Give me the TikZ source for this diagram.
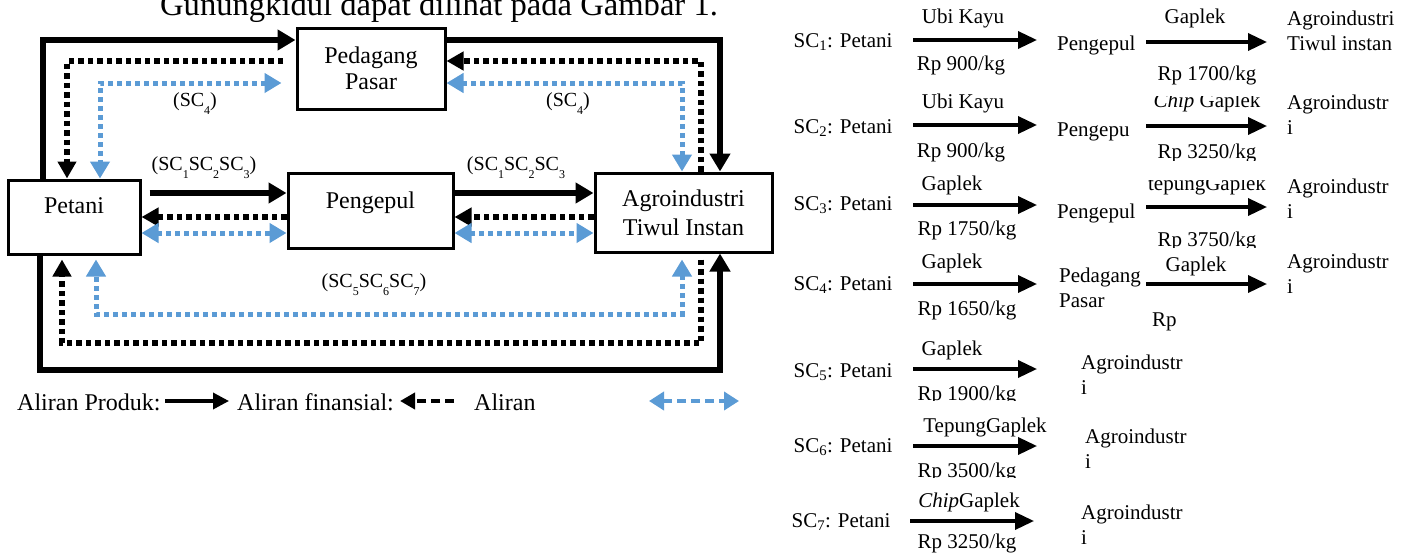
\documentclass[tikz,border=0pt]{standalone}
\usepackage{fontspec}
\setmainfont{Liberation Serif}
\usetikzlibrary{arrows.meta}
\definecolor{fblue}{RGB}{91,155,213}
\newcommand\lsub[1]{\raisebox{-8pt}{\fontsize{12}{12}\selectfont #1}}
\begin{document}
\begin{tikzpicture}[x=1pt,y=-1pt,
  box/.style={draw, line width=3pt, inner sep=0pt, font=\fontsize{24}{26}\selectfont, align=center},
  prod/.style={line width=5.5pt, -{Triangle[length=18pt,width=20pt]}},
  fin/.style={line width=5.5pt, dash pattern=on 5.5pt off 4pt, -{Triangle[length=17pt,width=18pt]}},
  blu/.style={fblue, line width=5pt, dash pattern=on 5pt off 4pt, {Triangle[length=17pt,width=19pt]}-{Triangle[length=17pt,width=19pt]}},
  lab/.style={font=\fontsize{20}{24}\selectfont, inner sep=0pt},
  rtxt/.style={font=\fontsize{21}{25}\selectfont, inner sep=0pt},
  rleft/.style={rtxt, anchor=west, align=left},
  rarr/.style={line width=3.5pt, -{Triangle[length=19pt,width=17pt]}},
  leg/.style={font=\fontsize{24}{29}\selectfont, inner sep=0pt, anchor=west},
]
\clip (0,0) rectangle (1414,557);
\fill[white] (0,0) rectangle (1414,557);

% title (cut at top)
\node[font=\fontsize{32.6}{36}\selectfont, anchor=base west, inner sep=0pt] (title) at (160,15) {Gunungkidul dapat dilihat pada Gambar 1.};

% boxes
\node[box, minimum width=148pt, minimum height=81pt] (pedagang) at (371,68.5) {Pedagang\\Pasar};
\node[box, minimum width=132pt, minimum height=74pt, text height=17pt, text depth=25pt] (petani) at (74,217) {Petani};
\node[box, minimum width=165pt, minimum height=75pt, text height=17pt, text depth=22pt] (pengepul) at (370.5,210.5) {Pengepul};
\node[box, minimum width=177pt, minimum height=79pt, font=\fontsize{24}{29}\selectfont] (agro) at (683.5,212.5) {Agroindustri\\Tiwul Instan};

% lane coordinates
\coordinate (tl) at (43,40);
\coordinate (tr) at (720,40);
\coordinate (fl) at (67,61);
\coordinate (fr) at (701,61);
\coordinate (flstart) at (283,61);
\coordinate (bl) at (100,83);
\coordinate (br) at (682,83);
\coordinate (ym1) at (0,193);
\coordinate (ym2) at (0,217);
\coordinate (ym3) at (0,233);
\coordinate (btl) at (40,370);
\coordinate (btr) at (720,370);
\coordinate (bfl) at (62,343);
\coordinate (bfr) at (701,343);
\coordinate (bbl) at (96,314);
\coordinate (bbr) at (682,314);

% top connectors
\draw[prod] (petani.north -| tl) |- (pedagang.west |- tl);
\draw[prod] (pedagang.east |- tr) -| (agro.north -| tr);
\draw[fin] (flstart) -| (petani.north -| fl);
\draw[blu, shorten <=14pt] (pedagang.west |- bl) -| (petani.north -| bl);
\draw[fin] (agro.north -| fr) |- (pedagang.east |- fr);
\draw[blu] (pedagang.east |- br) -| (agro.north -| br);

% middle connectors
\draw[prod, shorten <=8pt] (petani.east |- ym1) -- (pengepul.west |- ym1);
\draw[fin] (pengepul.west |- ym2) -- (petani.east |- ym2);
\draw[blu] (petani.east |- ym3) -- (pengepul.west |- ym3);
\draw[prod] (pengepul.east |- ym1) -- (agro.west |- ym1);
\draw[fin] (agro.west |- ym2) -- (pengepul.east |- ym2);
\draw[blu] (pengepul.east |- ym3) -- (agro.west |- ym3);

% bottom connectors
\draw[prod] (petani.south -| btl) |- (btr) -- (agro.south -| btr);
\draw[fin, shorten <=6pt, shorten >=4pt] (agro.south -| bfr) |- (bfl) -- (petani.south -| bfl);
\draw[blu, shorten <=6pt, shorten >=4pt] (agro.south -| bbr) |- (bbl) -- (petani.south -| bbl);

% labels
\node[lab] (l1) at (195,104) {(SC\lsub{4})};
\node[lab] (l2) at (568,104) {(SC\lsub{4})};
\node[lab] (l3) at (204,168) {(SC\lsub{1}SC\lsub{2}SC\lsub{3})};
\node[lab] (l4) at (516,168) {(SC\lsub{1}SC\lsub{2}SC\lsub{3}};
\node[lab] (l5) at (374,285) {(SC\lsub{5}SC\lsub{6}SC\lsub{7})};

% legend
\node[leg] (lg1) at (17,402) {Aliran Produk:};
\coordinate (lga) at (165,401);
\coordinate (lgb) at (229,401);
\draw[line width=3.5pt, -{Triangle[length=16pt,width=16pt]}] (lga) -- (lgb);
\node[leg] (lg2) at (237,402) {Aliran finansial:};
\coordinate (lgc) at (454,401);
\coordinate (lgd) at (400,401);
\draw[line width=4.5pt, dash pattern=on 9pt off 5pt, -{Triangle[length=15pt,width=16pt]}] (lgc) -- (lgd);
\node[leg] (lg3) at (474,402) {Aliran};
\coordinate (lge) at (649,401);
\coordinate (lgf) at (739,401);
\draw[fblue, line width=4pt, dash pattern=on 9pt off 5pt, {Triangle[length=15pt,width=18pt]}-{Triangle[length=15pt,width=18pt]}] (lge) -- (lgf);

% ---------- right list ----------
% row 1
\node[rtxt] (r1a) at (843,42) {SC\textsubscript{1}: Petani};
\node[rtxt] (r1u) at (963,18) {Ubi Kayu};
\node[rtxt] (r1p) at (961,65) {Rp 900/kg};
\node[rleft] (r1b) at (1057,45) {Pengepul};
\node[rtxt] (r1u2) at (1195,18) {Gaplek};
\node[rtxt] (r1p2) at (1207,75) {Rp 1700/kg};
\node[rleft] (r1c) at (1287,30.5) {Agroindustri\\Tiwul instan};
\coordinate (a1s) at (913,40); \coordinate (a1e) at (1037,40);
\coordinate (b1s) at (1146,42); \coordinate (b1e) at (1267,42);
\draw[rarr] (a1s) -- (a1e);
\draw[rarr] (b1s) -- (b1e);

% row 2
\node[rtxt] (r2a) at (843,128) {SC\textsubscript{2}: Petani};
\node[rtxt] (r2u) at (963,103) {Ubi Kayu};
\node[rtxt] (r2p) at (961,152) {Rp 900/kg};
\node[rleft] (r2b) at (1057,132) {Pengepu};
\begin{scope}
\clip (1100,96) rectangle (1280,160);
\node[rtxt] (r2u2) at (1207,102) {\textit{Chip} Gaplek};
\node[rtxt] (r2p2) at (1207,153) {Rp 3250/kg};
\end{scope}
\node[rleft] (r2c) at (1287,115) {Agroindustr\\i};
\coordinate (a2s) at (913,125); \coordinate (a2e) at (1037,125);
\coordinate (b2s) at (1146,126); \coordinate (b2e) at (1267,126);
\draw[rarr] (a2s) -- (a2e);
\draw[rarr] (b2s) -- (b2e);

% row 3
\node[rtxt] (r3a) at (843,205) {SC\textsubscript{3}: Petani};
\node[rtxt] (r3u) at (952,185) {Gaplek};
\node[rtxt] (r3p) at (967,230) {Rp 1750/kg};
\node[rleft] (r3b) at (1057,213) {Pengepul};
\begin{scope}
\clip (1100,180) rectangle (1280,247);
\node[rtxt] (r3u2) at (1207,185) {tepungGaplek};
\node[rtxt] (r3p2) at (1207,241) {Rp 3750/kg};
\end{scope}
\node[rleft] (r3c) at (1287,198.5) {Agroindustr\\i};
\coordinate (a3s) at (913,205); \coordinate (a3e) at (1037,205);
\coordinate (b3s) at (1146,207); \coordinate (b3e) at (1267,207);
\draw[rarr] (a3s) -- (a3e);
\draw[rarr] (b3s) -- (b3e);

% row 4
\node[rtxt] (r4a) at (843,285) {SC\textsubscript{4}: Petani};
\node[rtxt] (r4u) at (952,263) {Gaplek};
\node[rtxt] (r4p) at (967,310) {Rp 1650/kg};
\node[rleft] (r4b) at (1059,287.5) {Pedagang\\Pasar};
\node[rtxt] (r4u2) at (1196,266) {Gaplek};
\node[rleft] (r4p2) at (1152,322) {Rp};
\node[rleft] (r4c) at (1287,273.5) {Agroindustr\\i};
\coordinate (a4s) at (913,284); \coordinate (a4e) at (1037,284);
\coordinate (b4s) at (1146,284); \coordinate (b4e) at (1267,284);
\draw[rarr] (a4s) -- (a4e);
\draw[rarr] (b4s) -- (b4e);

% row 5
\node[rtxt] (r5a) at (843,372) {SC\textsubscript{5}: Petani};
\node[rtxt] (r5u) at (952,350) {Gaplek};
\begin{scope}
\clip (900,380) rectangle (1040,400);
\node[rtxt] (r5p) at (967,395) {Rp 1900/kg};
\end{scope}
\node[rleft] (r5c) at (1081,374.5) {Agroindustr\\i};
\coordinate (a5s) at (913,369); \coordinate (a5e) at (1037,369);
\draw[rarr] (a5s) -- (a5e);

% row 6
\node[rtxt] (r6a) at (843,447) {SC\textsubscript{6}: Petani};
\node[rtxt] (r6u) at (985,427) {TepungGaplek};
\begin{scope}
\clip (900,455) rectangle (1040,477);
\node[rtxt] (r6p) at (967,472) {Rp 3500/kg};
\end{scope}
\node[rleft] (r6c) at (1085,449) {Agroindustr\\i};
\coordinate (a6s) at (913,446); \coordinate (a6e) at (1037,446);
\draw[rarr] (a6s) -- (a6e);

% row 7
\node[rtxt] (r7a) at (841,522) {SC\textsubscript{7}: Petani};
\node[rtxt] (r7u) at (969,502) {\textit{Chip}Gaplek};
\node[rtxt] (r7p) at (967,543) {Rp 3250/kg};
\node[rleft] (r7c) at (1081,524.5) {Agroindustr\\i};
\coordinate (a7s) at (910,521); \coordinate (a7e) at (1034,521);
\draw[rarr] (a7s) -- (a7e);
\end{tikzpicture}
\end{document}
